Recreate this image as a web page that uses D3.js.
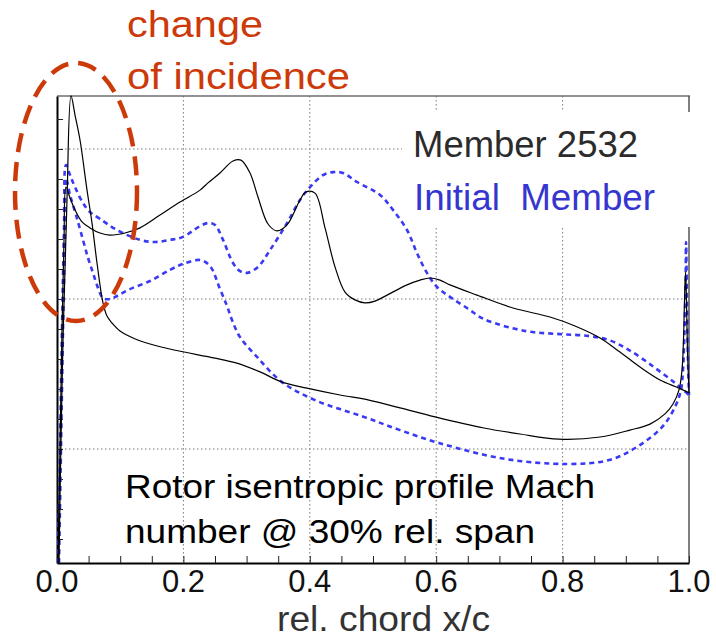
<!DOCTYPE html>
<html>
<head>
<meta charset="utf-8">
<script src="https://cdn.jsdelivr.net/npm/d3@7"></script>
<style>
  html, body { margin: 0; padding: 0; background: #fff; }
  svg { display: block; }
  text { font-family: "Liberation Sans", Arial, sans-serif; }
</style>
</head>
<body>
<svg id="chart" width="716" height="637"></svg>
<script>
// Isentropic profile Mach number along the chord, rotor section at 30% span.
// Each blade has two branches (suction and pressure side) given as [x/c, Mach].

const member2532Suction = [
  [0.0016, 0.120], [0.0047, 0.497], [0.0079, 0.897], [0.0111, 1.197], [0.0142, 1.373],
  [0.0206, 1.337], [0.0285, 1.297], [0.0396, 1.257], [0.0522, 1.237], [0.0680, 1.220],
  [0.0839, 1.213], [0.1076, 1.220], [0.1313, 1.237], [0.1630, 1.280], [0.1946, 1.323],
  [0.2263, 1.363], [0.2389, 1.387], [0.2579, 1.420], [0.2785, 1.460], [0.2911, 1.463],
  [0.3054, 1.420], [0.3180, 1.340], [0.3339, 1.250], [0.3481, 1.227], [0.3639, 1.247],
  [0.3845, 1.330], [0.3940, 1.357], [0.4082, 1.353], [0.4241, 1.237], [0.4399, 1.107],
  [0.4557, 1.023], [0.4715, 0.997], [0.4873, 0.987], [0.5032, 0.993], [0.5222, 1.013],
  [0.5538, 1.047], [0.5744, 1.063], [0.5902, 1.070], [0.6060, 1.063], [0.6218, 1.047],
  [0.6646, 1.013], [0.7215, 0.970], [0.7801, 0.940], [0.8196, 0.910], [0.8592, 0.870],
  [0.8908, 0.823], [0.9225, 0.773], [0.9541, 0.730], [0.9842, 0.703], [1.0000, 0.687]
];

const member2532Pressure = [
  [0.0032, 0.120], [0.0047, 0.330], [0.0095, 0.863], [0.0158, 1.330], [0.0222, 1.677],
  [0.0285, 1.613], [0.0364, 1.530], [0.0475, 1.363], [0.0554, 1.253], [0.0633, 1.120],
  [0.0728, 0.987], [0.0791, 0.943], [0.0870, 0.920], [0.0997, 0.893], [0.1203, 0.870],
  [0.1472, 0.850], [0.1851, 0.830], [0.2500, 0.803], [0.2832, 0.787], [0.3212, 0.757],
  [0.3560, 0.723], [0.3956, 0.703], [0.4478, 0.680], [0.4937, 0.663], [0.5427, 0.637],
  [0.5981, 0.607], [0.6756, 0.570], [0.7326, 0.550], [0.7943, 0.533], [0.8592, 0.540],
  [0.9066, 0.563], [0.9383, 0.583], [0.9620, 0.617], [0.9747, 0.650], [0.9842, 0.697],
  [0.9889, 0.763], [0.9913, 0.863], [0.9929, 0.997], [0.9945, 1.090], [0.9960, 0.997],
  [0.9976, 0.830], [1.0000, 0.687]
];

const initialSuction = [
  [0.0016, 0.120], [0.0047, 0.497], [0.0079, 0.897], [0.0111, 1.230], [0.0142, 1.447],
  [0.0206, 1.413], [0.0285, 1.373], [0.0411, 1.320], [0.0522, 1.290], [0.0680, 1.267],
  [0.0949, 1.230], [0.1313, 1.197], [0.1551, 1.190], [0.1788, 1.197], [0.1994, 1.207],
  [0.2263, 1.243], [0.2389, 1.253], [0.2500, 1.247], [0.2627, 1.197], [0.2785, 1.120],
  [0.2896, 1.093], [0.3006, 1.087], [0.3180, 1.107], [0.3370, 1.163], [0.3639, 1.253],
  [0.3845, 1.330], [0.4003, 1.373], [0.4209, 1.413], [0.4367, 1.423], [0.4525, 1.420],
  [0.4747, 1.390], [0.5111, 1.347], [0.5316, 1.297], [0.5538, 1.230], [0.5696, 1.153],
  [0.5854, 1.087], [0.6013, 1.040], [0.6218, 1.007], [0.6487, 0.970], [0.6756, 0.933],
  [0.7421, 0.893], [0.7959, 0.883], [0.8402, 0.877], [0.8734, 0.863], [0.9051, 0.830],
  [0.9446, 0.773], [0.9778, 0.720], [1.0000, 0.680]
];

const initialPressure = [
  [0.0032, 0.120], [0.0063, 0.497], [0.0095, 0.897], [0.0127, 1.230], [0.0142, 1.403],
  [0.0206, 1.347], [0.0301, 1.280], [0.0411, 1.197], [0.0491, 1.137], [0.0570, 1.087],
  [0.0649, 1.037], [0.0728, 1.003], [0.0839, 1.000], [0.0949, 1.010], [0.1155, 1.033],
  [0.1472, 1.060], [0.1788, 1.097], [0.1994, 1.117], [0.2263, 1.130], [0.2421, 1.110],
  [0.2579, 1.033], [0.2690, 0.977], [0.2769, 0.930], [0.2896, 0.873], [0.3165, 0.807],
  [0.3560, 0.723], [0.4082, 0.663], [0.4858, 0.607], [0.5427, 0.563], [0.6044, 0.520],
  [0.7089, 0.467], [0.8070, 0.450], [0.8734, 0.463], [0.9177, 0.507], [0.9573, 0.573],
  [0.9778, 0.640], [0.9873, 0.697], [0.9905, 0.763], [0.9929, 0.897], [0.9945, 1.030],
  [0.9953, 1.190], [0.9968, 0.997], [0.9984, 0.797], [1.0000, 0.680]
];

const xTickValues = [0, 0.2, 0.4, 0.6, 0.8, 1.0];
const xTickLabels = ["0.0", "0.2", "0.4", "0.6", "0.8", "1.0"];
const xMinorTicks = [0, 0.05, 0.1, 0.15, 0.2, 0.25, 0.3, 0.35, 0.4, 0.45, 0.5,
                     0.55, 0.6, 0.65, 0.7, 0.75, 0.8, 0.85, 0.9, 0.95, 1.0];
const xGrid = [0.2, 0.4, 0.6, 0.8];
const yMinorTicks = [0.2, 0.3, 0.4, 0.5, 0.6, 0.7, 0.8, 0.9, 1.0, 1.1, 1.2, 1.3, 1.4, 1.5, 1.6];
const yGrid = [0.5, 1.0, 1.5];

const legendLabels = ["Member 2532", "Initial  Member"];
const titleLines = ["Rotor isentropic profile Mach", "number @ 30% rel. span"];
const noteLines = ["change", "of incidence"];
const xAxisTitle = "rel. chord x/c";

const svg = d3.select("#chart");
const plot = { left: 57, right: 689, top: 96, bottom: 563 };

const x = d3.scaleLinear().domain([0, 1]).range([plot.left, plot.right]);
const y = d3.scaleLinear().domain([0.12, 1.6767]).range([plot.bottom, plot.top]);

svg.append("rect").attr("width", 716).attr("height", 637).attr("fill", "#fff");

// dotted grid
const grid = svg.append("g").attr("stroke", "#7a7a7a").attr("stroke-width", 1)
  .attr("stroke-dasharray", "1.5,2.5").attr("fill", "none");
grid.selectAll("line.vx").data(xGrid).join("line")
  .attr("x1", d => x(d)).attr("x2", d => x(d))
  .attr("y1", plot.top).attr("y2", plot.bottom);
grid.selectAll("line.hy").data(yGrid).join("line")
  .attr("x1", plot.left).attr("x2", plot.right)
  .attr("y1", d => y(d)).attr("y2", d => y(d));

// frame: light top/right edges, dark left/bottom axes
svg.append("line").attr("x1", plot.left).attr("x2", plot.right + 1)
  .attr("y1", plot.top).attr("y2", plot.top).attr("stroke", "#6e6e6e").attr("stroke-width", 1.5);
svg.append("line").attr("x1", plot.right).attr("x2", plot.right)
  .attr("y1", plot.top).attr("y2", plot.bottom).attr("stroke", "#555").attr("stroke-width", 1.5);

// x axis: minor ticks pointing inward, labels only at majors
const xAxis = d3.axisBottom(x).tickValues(xMinorTicks).tickSizeInner(-7).tickSizeOuter(0)
  .tickFormat("");
const gx = svg.append("g").attr("transform", `translate(0,${plot.bottom})`).call(xAxis);
gx.select(".domain").attr("stroke", "#000").attr("stroke-width", 2);
gx.selectAll(".tick line").attr("stroke", "#222").attr("stroke-width", 1);

svg.append("g").selectAll("text").data(xTickValues).join("text")
  .attr("x", d => x(d)).attr("y", 592)
  .attr("text-anchor", "middle")
  .attr("font-size", 32)
  .attr("textLength", 43).attr("lengthAdjust", "spacingAndGlyphs")
  .attr("fill", "#111")
  .text((d, i) => xTickLabels[i]);

// y axis: ticks only, no labels
const yAxis = d3.axisLeft(y).tickValues(yMinorTicks).tickSizeInner(-6).tickSizeOuter(0)
  .tickFormat("");
const gy = svg.append("g").attr("transform", `translate(${plot.left},0)`).call(yAxis);
gy.select(".domain").attr("stroke", "#000").attr("stroke-width", 2);
gy.selectAll(".tick line").attr("stroke", "#222").attr("stroke-width", 1);

svg.append("text").attr("x", 277).attr("y", 631)
  .attr("font-size", 35).attr("fill", "#333")
  .attr("textLength", 213).attr("lengthAdjust", "spacingAndGlyphs")
  .text(xAxisTitle);

// legend block on a white panel
svg.append("rect").attr("x", 402).attr("y", 112).attr("width", 292).attr("height", 115)
  .attr("fill", "#fff");
svg.append("text").attr("x", 413).attr("y", 157).attr("font-size", 37)
  .attr("fill", "#2b2b2b").attr("textLength", 225).attr("lengthAdjust", "spacingAndGlyphs")
  .text(legendLabels[0]);
svg.append("text").attr("x", 414).attr("y", 210).attr("font-size", 37)
  .attr("fill", "#3535cf").attr("textLength", 241).attr("lengthAdjust", "spacingAndGlyphs")
  .style("white-space", "pre")
  .text(legendLabels[1]);

// profile curves
const line = d3.line()
  .x(d => x(d[0])).y(d => y(d[1]))
  .curve(d3.curveCatmullRom.alpha(0.5));

const curves = svg.append("g").attr("fill", "none");
[initialSuction, initialPressure].forEach(s => {
  curves.append("path").attr("d", line(s))
    .attr("stroke", "#3a3af5").attr("stroke-width", 2.6)
    .attr("stroke-dasharray", "5,4");
});
[member2532Suction, member2532Pressure].forEach(s => {
  curves.append("path").attr("d", line(s))
    .attr("stroke", "#000").attr("stroke-width", 1.2);
});

// annotation text inside the plot
svg.append("g").selectAll("text").data(titleLines).join("text")
  .attr("x", 125).attr("y", (d, i) => 498 + i * 45)
  .attr("font-size", 33).attr("fill", "#000")
  .attr("textLength", (d, i) => i === 0 ? 470 : 410)
  .attr("lengthAdjust", "spacingAndGlyphs")
  .text(d => d);

// leading-edge callout
const accent = "#cc3a0a";
svg.append("ellipse").attr("cx", 76).attr("cy", 192).attr("rx", 61).attr("ry", 129)
  .attr("fill", "none").attr("stroke", accent).attr("stroke-width", 4.5)
  .attr("stroke-dasharray", "19,10");
svg.append("g").selectAll("text").data(noteLines).join("text")
  .attr("x", 127).attr("y", (d, i) => 37 + i * 52)
  .attr("font-size", 37).attr("fill", accent)
  .attr("textLength", (d, i) => i === 0 ? 136 : 223)
  .attr("lengthAdjust", "spacingAndGlyphs")
  .text(d => d);
</script>
</body>
</html>
